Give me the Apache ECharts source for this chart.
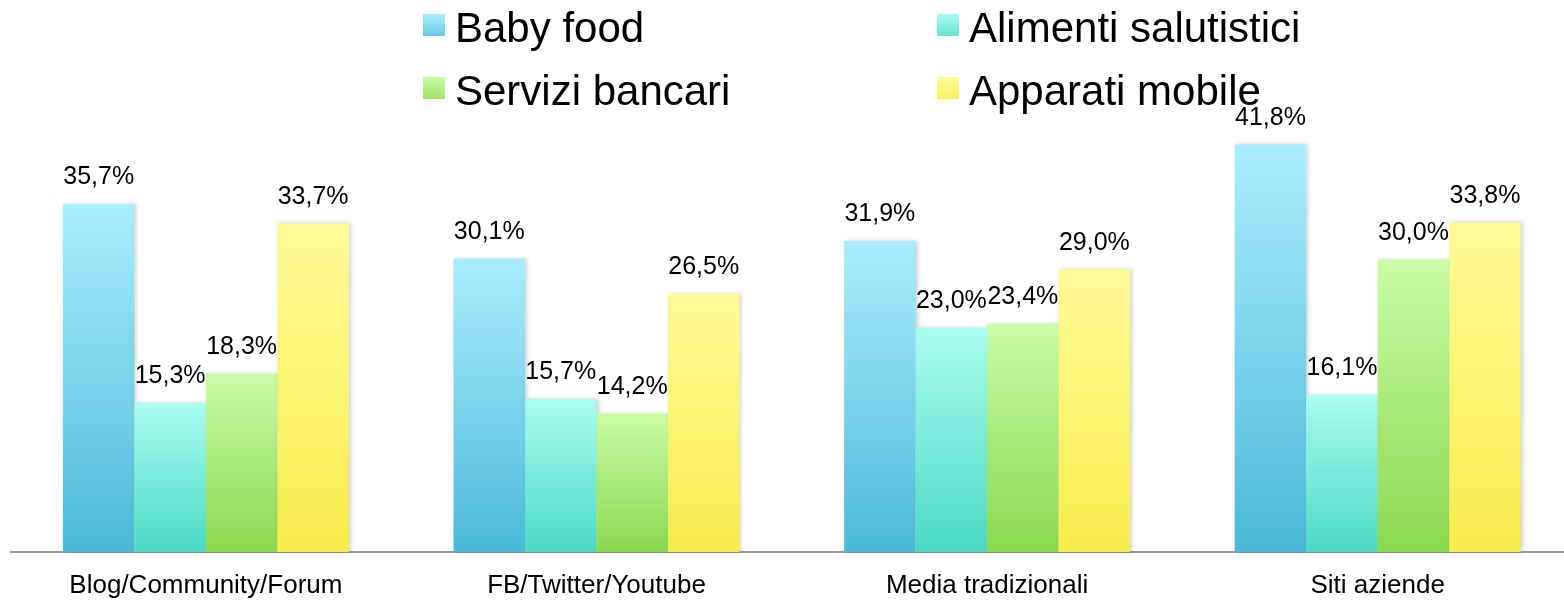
<!DOCTYPE html>
<html>
<head>
<meta charset="utf-8">
<script src="https://cdn.jsdelivr.net/npm/echarts@6/dist/echarts.min.js"></script>
<style>
    html, body { margin: 0; padding: 0; background: #fff; overflow: hidden; }
    #chart { width: 1573px; height: 600px; }
</style>
</head>
<body>
<div id="chart"></div>
<script>
// categories and series values (percent)
const categories = ['Blog/Community/Forum', 'FB/Twitter/Youtube', 'Media tradizionali', 'Siti aziende'];
const seriesNames = ['Baby food', 'Alimenti salutistici', 'Servizi bancari', 'Apparati mobile'];
const babyFood = [35.7, 30.1, 31.9, 41.8];
const alimenti = [15.3, 15.7, 23.0, 16.1];
const servizi = [18.3, 14.2, 23.4, 30.0];
const apparati = [33.7, 26.5, 29.0, 33.8];

const seriesData = [babyFood, alimenti, servizi, apparati];
const gradients = [
    ['#aaedfd', '#4bb9da'],
    ['#aafdef', '#4ad9c2'],
    ['#c9fca6', '#8ad84f'],
    ['#fefb98', '#f6ec4a']
];
const font = "'Liberation Sans', Arial, sans-serif";

const myChart = echarts.init(document.getElementById('chart'));

// the plot runs a few px past the right edge of the page, like the original
const legendPos = [
    {left: 423, top: 9},
    {left: 937, top: 9},
    {left: 423, top: 72},
    {left: 937, top: 72}
];

const option = {
    animation: false,
    legend: seriesNames.map(function (name, i) {
        return {
            data: [name],
            left: legendPos[i].left,
            top: legendPos[i].top,
            padding: 0,
            // square sits a bit above the text middle
            icon: 'path://M0,0L22,0L22,22L0,22ZM0,32',
            itemWidth: 22,
            itemHeight: 32,
            textStyle: {
                fontSize: 42,
                fontFamily: font,
                color: '#000',
                padding: [0, 0, 0, 5]
            }
        };
    }),
    grid: {
        left: 10.6,
        right: 0,
        top: 113.25,
        bottom: 48
    },
    xAxis: {
        type: 'category',
        data: categories,
        axisLine: {lineStyle: {color: '#999', width: 2}},
        axisTick: {show: false},
        axisLabel: {
            fontSize: 26,
            fontFamily: font,
            color: '#000',
            margin: 21
        }
    },
    yAxis: {
        type: 'value',
        min: 0,
        max: 45,
        show: false,
        splitLine: {show: false}
    },
    series: seriesNames.map(function (name, i) {
        return {
            name: name,
            type: 'bar',
            data: seriesData[i],
            barGap: 0,
            barCategoryGap: '26.8%',
            itemStyle: {
                color: new echarts.graphic.LinearGradient(0, 0, 0, 1, [
                    {offset: 0, color: gradients[i][0]},
                    {offset: 1, color: gradients[i][1]}
                ]),
                shadowColor: 'rgba(0,0,0,0.18)',
                shadowBlur: 4,
                shadowOffsetX: 2
            },
            label: {
                show: true,
                position: 'top',
                distance: 14,
                fontSize: 25,
                fontFamily: font,
                color: '#000',
                formatter: function (p) {
                    return p.value.toFixed(1).replace('.', ',') + '%';
                }
            }
        };
    })
};

option && myChart.setOption(option);
</script>
</body>
</html>
